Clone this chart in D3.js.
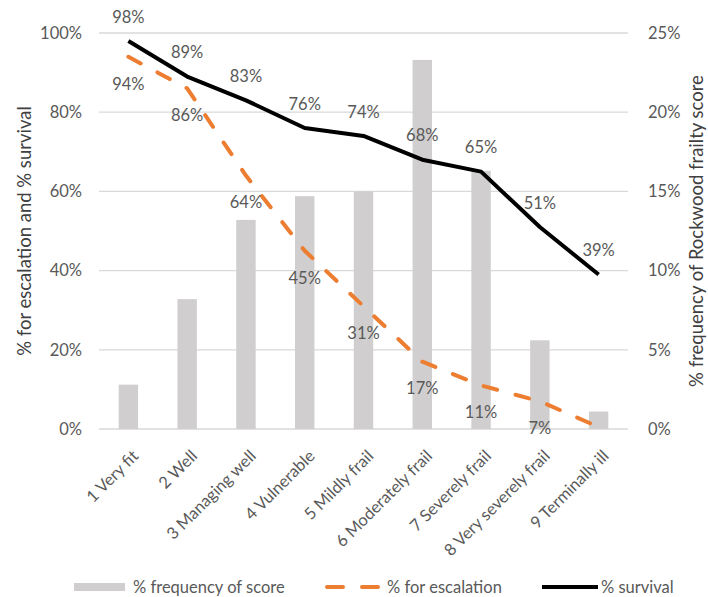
<!DOCTYPE html>
<html>
<head>
<meta charset="utf-8">
<script src="https://cdn.jsdelivr.net/npm/d3@7"></script>
<style>
  body { margin: 0; background: #fff; }
  svg { font-family: Lato, "Open Sans", sans-serif; }
</style>
</head>
<body>
<svg id="chart" width="708" height="597"></svg>
<script>
// chart data
const categories = ["1 Very fit", "2 Well", "3 Managing well", "4 Vulnerable", "5 Mildly frail",
    "6 Moderately frail", "7 Severely frail", "8 Very severely frail", "9 Terminally ill"];
const frequency = [2.8, 8.2, 13.2, 14.7, 15.0, 23.3, 16.3, 5.6, 1.1];   // right axis, %
const escalation = [94, 86, 64, 45, 31, 17, 11, 7, 0.5];                // left axis, %
const escalationLabels = ["94%", "86%", "64%", "45%", "31%", "17%", "11%", "7%", ""];
const survival = [98, 89, 83, 76, 74, 68, 65, 51, 39];                  // left axis, %
const leftTicks = [0, 20, 40, 60, 80, 100];
const rightTicks = [0, 5, 10, 15, 20, 25];

const margin = { top: 33, right: 80, bottom: 168, left: 99 },
      W = 708, H = 597,
      width = W - margin.left - margin.right,
      height = H - margin.top - margin.bottom;

const svg = d3.select("#chart");
const g = svg.append("g").attr("transform", `translate(${margin.left},${margin.top})`);

const x = d3.scaleBand().domain(categories).range([0, width]).paddingInner(0.67).paddingOuter(0.335);
const xc = d3.scalePoint().domain(categories).range([0, width]).padding(0.5);
const yL = d3.scaleLinear().domain([0, 100]).range([height, 0]);
const yR = d3.scaleLinear().domain([0, 25]).range([height, 0]);

const textCol = "#595959";

// gridlines
g.selectAll(".grid").data(leftTicks).enter().append("line")
    .attr("x1", 0).attr("x2", width)
    .attr("y1", d => yL(d)).attr("y2", d => yL(d))
    .attr("stroke", "#d9d9d9").attr("stroke-width", 1.3);

// left axis
const axL = g.append("g").call(d3.axisLeft(yL).tickValues(leftTicks).tickSize(0).tickPadding(17).tickFormat(d => d + "%"));
axL.select(".domain").remove();
axL.selectAll("text").attr("fill", textCol).style("font-size", "16.5px").style("font-family", "Lato");

// right axis
const axR = g.append("g").attr("transform", `translate(${width},0)`)
    .call(d3.axisRight(yR).tickValues(rightTicks).tickSize(0).tickPadding(20).tickFormat(d => d + "%"));
axR.select(".domain").remove();
axR.selectAll("text").attr("fill", textCol).style("font-size", "16.5px").style("font-family", "Lato");

// bars
g.selectAll(".bar").data(frequency).enter().append("rect")
    .attr("x", (d, i) => x(categories[i]))
    .attr("width", x.bandwidth())
    .attr("y", d => yR(d))
    .attr("height", d => height - yR(d))
    .attr("fill", "#d0cece");

// lines
const line = d3.line().x((d, i) => xc(categories[i])).y(d => yL(d));

g.append("path").datum(escalation)
    .attr("d", line)
    .attr("fill", "none")
    .attr("stroke", "#ed7d31")
    .attr("stroke-width", 4)
    .attr("stroke-dasharray", "14,19")
    .attr("stroke-linecap", "round")
    .attr("stroke-linejoin", "round");

g.append("path").datum(survival)
    .attr("d", line)
    .attr("fill", "none")
    .attr("stroke", "#000")
    .attr("stroke-width", 4)
    .attr("stroke-linejoin", "round");

// data labels
g.selectAll(".lab-surv").data(survival).enter().append("text")
    .attr("x", (d, i) => xc(categories[i]))
    .attr("y", d => yL(d) - 24)
    .attr("dy", "0.35em")
    .attr("text-anchor", "middle")
    .attr("fill", textCol)
    .style("font-size", "16.5px")
    .text(d => d + "%");

g.selectAll(".lab-esc").data(escalation).enter().append("text")
    .attr("x", (d, i) => xc(categories[i]))
    .attr("y", d => yL(d) + 27)
    .attr("dy", "0.35em")
    .attr("text-anchor", "middle")
    .attr("fill", textCol)
    .style("font-size", "16.5px")
    .text((d, i) => escalationLabels[i]);

// x category labels
g.selectAll(".xlab").data(categories).enter().append("text")
    .attr("transform", d => `translate(${xc(d) + 7},${height + 24}) rotate(-45)`)
    .attr("text-anchor", "end")
    .attr("dy", "0.35em")
    .attr("fill", textCol)
    .style("font-size", "16.5px")
    .text(d => d);

// axis titles
svg.append("text")
    .attr("transform", `translate(25,${margin.top + height / 2}) rotate(-90)`)
    .attr("text-anchor", "middle")
    .attr("dy", "0.35em")
    .attr("fill", "#404040")
    .style("font-size", "18.5px")
    .text("% for escalation and % survival");

svg.append("text")
    .attr("transform", `translate(697,${margin.top + height / 2}) rotate(-90)`)
    .attr("text-anchor", "middle")
    .attr("dy", "0.35em")
    .attr("fill", "#404040")
    .style("font-size", "18.5px")
    .text("% frequency of Rockwood frailty score");

// legend
const legY = 587;
const legend = svg.append("g");
legend.append("rect").attr("x", 74).attr("y", legY - 4).attr("width", 51).attr("height", 8).attr("fill", "#d0cece");
legend.append("text").attr("x", 133).attr("y", legY).attr("dy", "0.35em").attr("fill", textCol)
    .style("font-size", "16.5px").text("% frequency of score");
legend.append("line").attr("x1", 327).attr("x2", 380).attr("y1", legY).attr("y2", legY)
    .attr("stroke", "#ed7d31").attr("stroke-width", 4).attr("stroke-dasharray", "16,19").attr("stroke-linecap", "round");
legend.append("text").attr("x", 387).attr("y", legY).attr("dy", "0.35em").attr("fill", textCol)
    .style("font-size", "16.5px").text("% for escalation");
legend.append("line").attr("x1", 542).attr("x2", 598).attr("y1", legY).attr("y2", legY)
    .attr("stroke", "#000").attr("stroke-width", 4);
legend.append("text").attr("x", 601).attr("y", legY).attr("dy", "0.35em").attr("fill", textCol)
    .style("font-size", "16.5px").text("% survival");
</script>
</body>
</html>
